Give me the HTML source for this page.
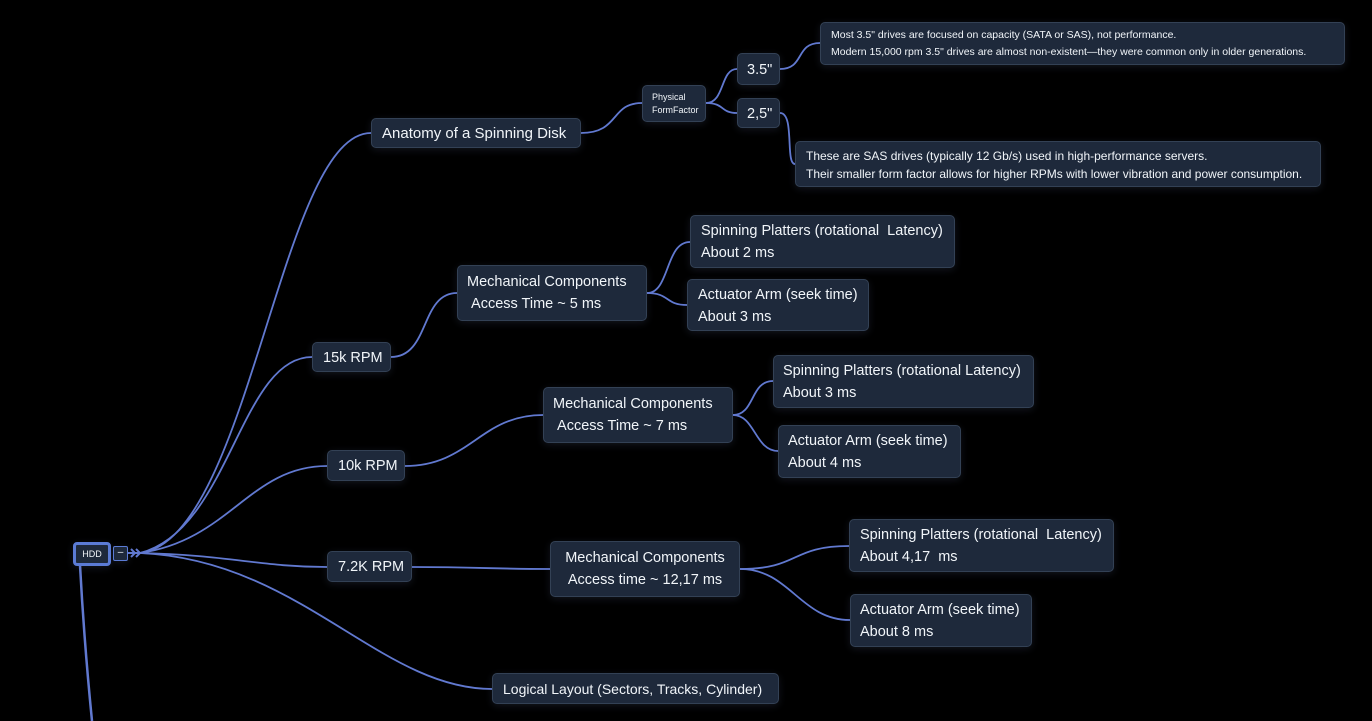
<!DOCTYPE html>
<html><head><style>
body{margin:0;width:1372px;height:721px;background:#000;overflow:hidden;position:relative;font-family:"Liberation Sans",sans-serif;}
.n{position:absolute;box-sizing:border-box;background:#1e293b;border:1px solid #334155;border-radius:5px;color:#f1f5f9;font-size:14.5px;line-height:22px;padding:4px 10px;white-space:nowrap;box-shadow:0 2px 8px rgba(120,140,200,0.15);}
svg{position:absolute;left:0;top:0}
</style></head><body>
<svg width="1372" height="721" fill="none" stroke="#6179d0" stroke-width="1.8">
<path d="M80 565 Q84 640 92 721" stroke-width="2.5"/>
<path d="M140 553 C250 540 280 133 371 133"/>
<path d="M140 553 C230 530 240 357 312 357"/>
<path d="M140 553 C230 540 250 466 327 466"/>
<path d="M140 553 C230 555 260 567 327 567"/>
<path d="M140 553 C300 560 380 689 492 689"/>
<path d="M581 133 C620 133 610 103 642 103"/>
<path d="M706 103 C725 103 720 69 737 69"/>
<path d="M706 103 C725 103 720 113 737 113"/>
<path d="M780 69 C805 69 795 43 820 43"/>
<path d="M780 113 C795 113 785 164 795 164"/>
<path d="M391 357 C430 357 420 293 457 293"/>
<path d="M647 293 C670 293 665 242 690 242"/>
<path d="M647 293 C670 293 665 305 687 305"/>
<path d="M405 466 C470 466 480 415 543 415"/>
<path d="M733 415 C755 415 750 381 773 381"/>
<path d="M733 415 C755 415 755 451 778 451"/>
<path d="M412 567 C480 567 490 569 550 569"/>
<path d="M740 569 C800 569 790 546 849 546"/>
<path d="M740 569 C790 569 800 620 850 620"/>
<path d="M128 553 L140 553" stroke-width="2"/>
<path d="M131 549 l4 4 l-4 4 M136 549 l4 4 l-4 4" stroke-width="2"/>
</svg>
<div class="n" style="left:73px;top:542px;width:38px;height:24px;border:3px solid #5b7bd5;font-size:9px;line-height:16px;padding:1px 0;text-align:center;border-radius:4px">HDD</div>
<div class="n" style="left:113px;top:546px;width:15px;height:15px;padding:0;border:1px solid #5b7bd5;font-size:10px;line-height:12px;text-align:center;border-radius:2px">–</div>
<div class="n" style="left:371px;top:118px;width:210px;height:30px;font-size:15px">Anatomy of a Spinning Disk</div>
<div class="n" style="left:642px;top:85px;width:64px;height:37px;font-size:9px;line-height:13px;padding:5px 9px">Physical<br>FormFactor</div>
<div class="n" style="left:737px;top:53px;width:43px;height:32px;padding:5px 9px">3.5"</div>
<div class="n" style="left:737px;top:98px;width:43px;height:30px;padding:4px 9px">2,5"</div>
<div class="n" style="left:820px;top:22px;width:525px;height:43px;font-size:10.5px;line-height:17px;padding:4px 10px">Most 3.5" drives are focused on capacity (SATA or SAS), not performance.<br>Modern 15,000 rpm 3.5" drives are almost non-existent—they were common only in older generations.</div>
<div class="n" style="left:795px;top:141px;width:526px;height:46px;font-size:12px;line-height:18px;padding:5px 10px">These are SAS drives (typically 12 Gb/s) used in high-performance servers.<br>Their smaller form factor allows for higher RPMs with lower vibration and power consumption.</div>
<div class="n" style="left:312px;top:342px;width:79px;height:30px">15k RPM</div>
<div class="n" style="left:457px;top:265px;width:190px;height:56px;padding:5px 9px">Mechanical Components<br>&nbsp;Access Time ~ 5 ms</div>
<div class="n" style="left:690px;top:215px;width:265px;height:53px;padding:4px 10px">Spinning Platters (rotational&nbsp; Latency)<br>About 2 ms</div>
<div class="n" style="left:687px;top:279px;width:182px;height:52px;padding:4px 10px">Actuator Arm (seek time)<br>About 3 ms</div>
<div class="n" style="left:327px;top:450px;width:78px;height:31px">10k RPM</div>
<div class="n" style="left:543px;top:387px;width:190px;height:56px;padding:5px 9px">Mechanical Components<br>&nbsp;Access Time ~ 7 ms</div>
<div class="n" style="left:773px;top:355px;width:261px;height:53px;padding:4px 9px">Spinning Platters (rotational Latency)<br>About 3 ms</div>
<div class="n" style="left:778px;top:425px;width:183px;height:53px;padding:4px 9px">Actuator Arm (seek time)<br>About 4 ms</div>
<div class="n" style="left:327px;top:551px;width:85px;height:31px">7.2K RPM</div>
<div class="n" style="left:550px;top:541px;width:190px;height:56px;padding:5px 9px;text-align:center">Mechanical Components<br>Access time ~ 12,17 ms</div>
<div class="n" style="left:849px;top:519px;width:265px;height:53px;padding:4px 10px">Spinning Platters (rotational&nbsp; Latency)<br>About 4,17&nbsp; ms</div>
<div class="n" style="left:850px;top:594px;width:182px;height:53px;padding:4px 9px">Actuator Arm (seek time)<br>About 8 ms</div>
<div class="n" style="left:492px;top:673px;width:287px;height:31px;font-size:14px">Logical Layout (Sectors, Tracks, Cylinder)</div>
</body></html>
